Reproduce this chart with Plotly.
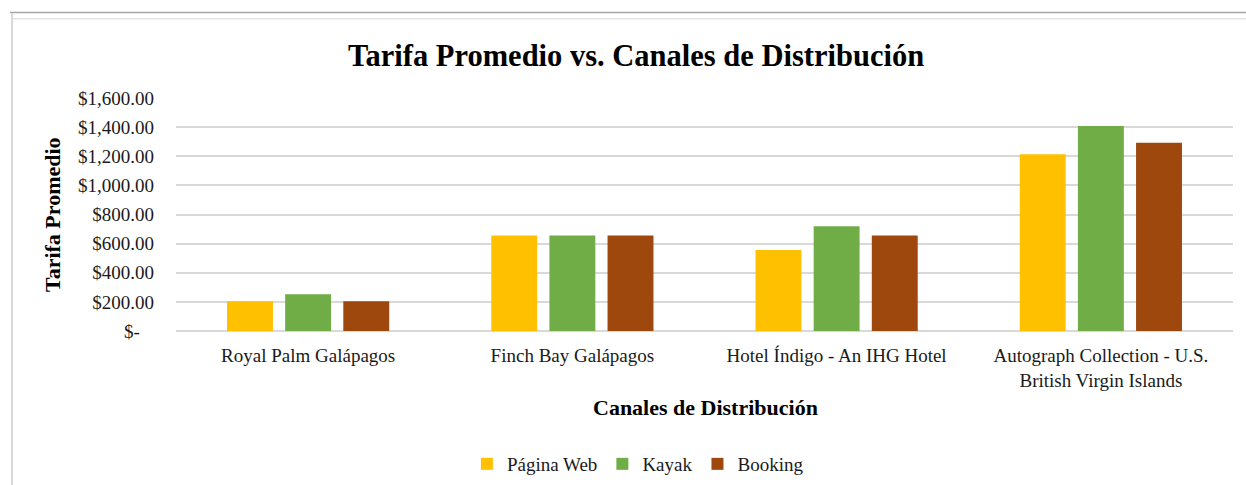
import plotly.graph_objects as go

categories = ["Royal Palm Galápagos", "Finch Bay Galápagos", "Hotel Índigo - An IHG Hotel",
              "Autograph Collection - U.S.<br>British Virgin Islands"]
pagina_web = [205, 655, 557, 1214]
kayak = [252, 655, 719, 1407]
booking = [205, 655, 655, 1292]
series_names = ["Página Web", "Kayak", "Booking"]
colors = ["#FFC000", "#70AD47", "#9E480E"]
tick_vals = [0, 200, 400, 600, 800, 1000, 1200, 1400, 1600]
tick_text = ["$-\u00a0\u00a0\u00a0", "$200.00", "$400.00", "$600.00", "$800.00",
             "$1,000.00", "$1,200.00", "$1,400.00", "$1,600.00"]

FONT = "Liberation Serif"
W, H = 1246, 485
L, R, T, B = 176, 13, 98, 154
PW, PH = W - L - R, H - T - B


def px(x):
    return (x - L) / PW


def py(y):
    return (H - B - y) / PH


fig = go.Figure()
for name, vals, col in zip(series_names, [pagina_web, kayak, booking], colors):
    fig.add_trace(go.Bar(name=name, x=categories, y=vals, marker_color=col,
                         marker_line_width=0))

shapes = [
    dict(type="line", xref="paper", yref="paper", x0=px(10), x1=px(1246),
         y0=py(12.5), y1=py(12.5), line=dict(color="#a6a6a6", width=1.5)),
    dict(type="line", xref="paper", yref="paper", x0=px(12), x1=px(1246),
         y0=py(18.7), y1=py(18.7), line=dict(color="#e3e3e3", width=1.5)),
    dict(type="line", xref="paper", yref="paper", x0=px(12), x1=px(12),
         y0=py(13), y1=py(485), line=dict(color="#d9d9d9", width=2)),
]

fig.update_layout(
    width=W, height=H,
    margin=dict(l=L, r=R, t=T, b=B, autoexpand=False),
    paper_bgcolor="white", plot_bgcolor="white",
    barmode="group", bargap=0.34, bargroupgap=0.21,
    font=dict(family=FONT, size=19, color="#1a1a1a"),
    title=dict(text="<b>Tarifa Promedio vs. Canales de Distribución</b>",
               x=0.5105, xanchor="center", y=1 - 55 / H, yanchor="middle",
               font=dict(family=FONT, size=30.5, color="#000000")),
    showlegend=True,
    legend=dict(orientation="h", x=0.437, xanchor="center", y=py(464), yanchor="middle",
                font=dict(family=FONT, size=19, color="#1a1a1a"),
                itemwidth=30, traceorder="normal"),
    xaxis=dict(showgrid=False, showline=False, ticks="", automargin=False,
               ticklabelstandoff=11, tickfont=dict(size=19)),
    yaxis=dict(range=[0, 1600], tickvals=tick_vals, ticktext=tick_text, automargin=False,
               showgrid=True, gridcolor="#d9d9d9", gridwidth=1.5,
               zeroline=True, zerolinecolor="#d9d9d9", zerolinewidth=1.5,
               showline=False, ticks="", ticklabelstandoff=21, tickfont=dict(size=19)),
    annotations=[
        dict(text="<b>Canales de Distribución</b>", xref="paper", yref="paper",
             x=px(705), y=py(407), xanchor="center", yanchor="middle",
             showarrow=False, font=dict(family=FONT, size=22, color="#000000")),
        dict(text="<b>Tarifa Promedio</b>", xref="paper", yref="paper",
             x=px(52), y=py(215), xanchor="center", yanchor="middle",
             textangle=-90, showarrow=False, font=dict(family=FONT, size=22, color="#000000")),
    ],
    shapes=shapes,
)
fig.write_html("out.html", config={"displayModeBar": False},
               post_script="document.body.style.margin='0';document.body.style.overflow='hidden';")
